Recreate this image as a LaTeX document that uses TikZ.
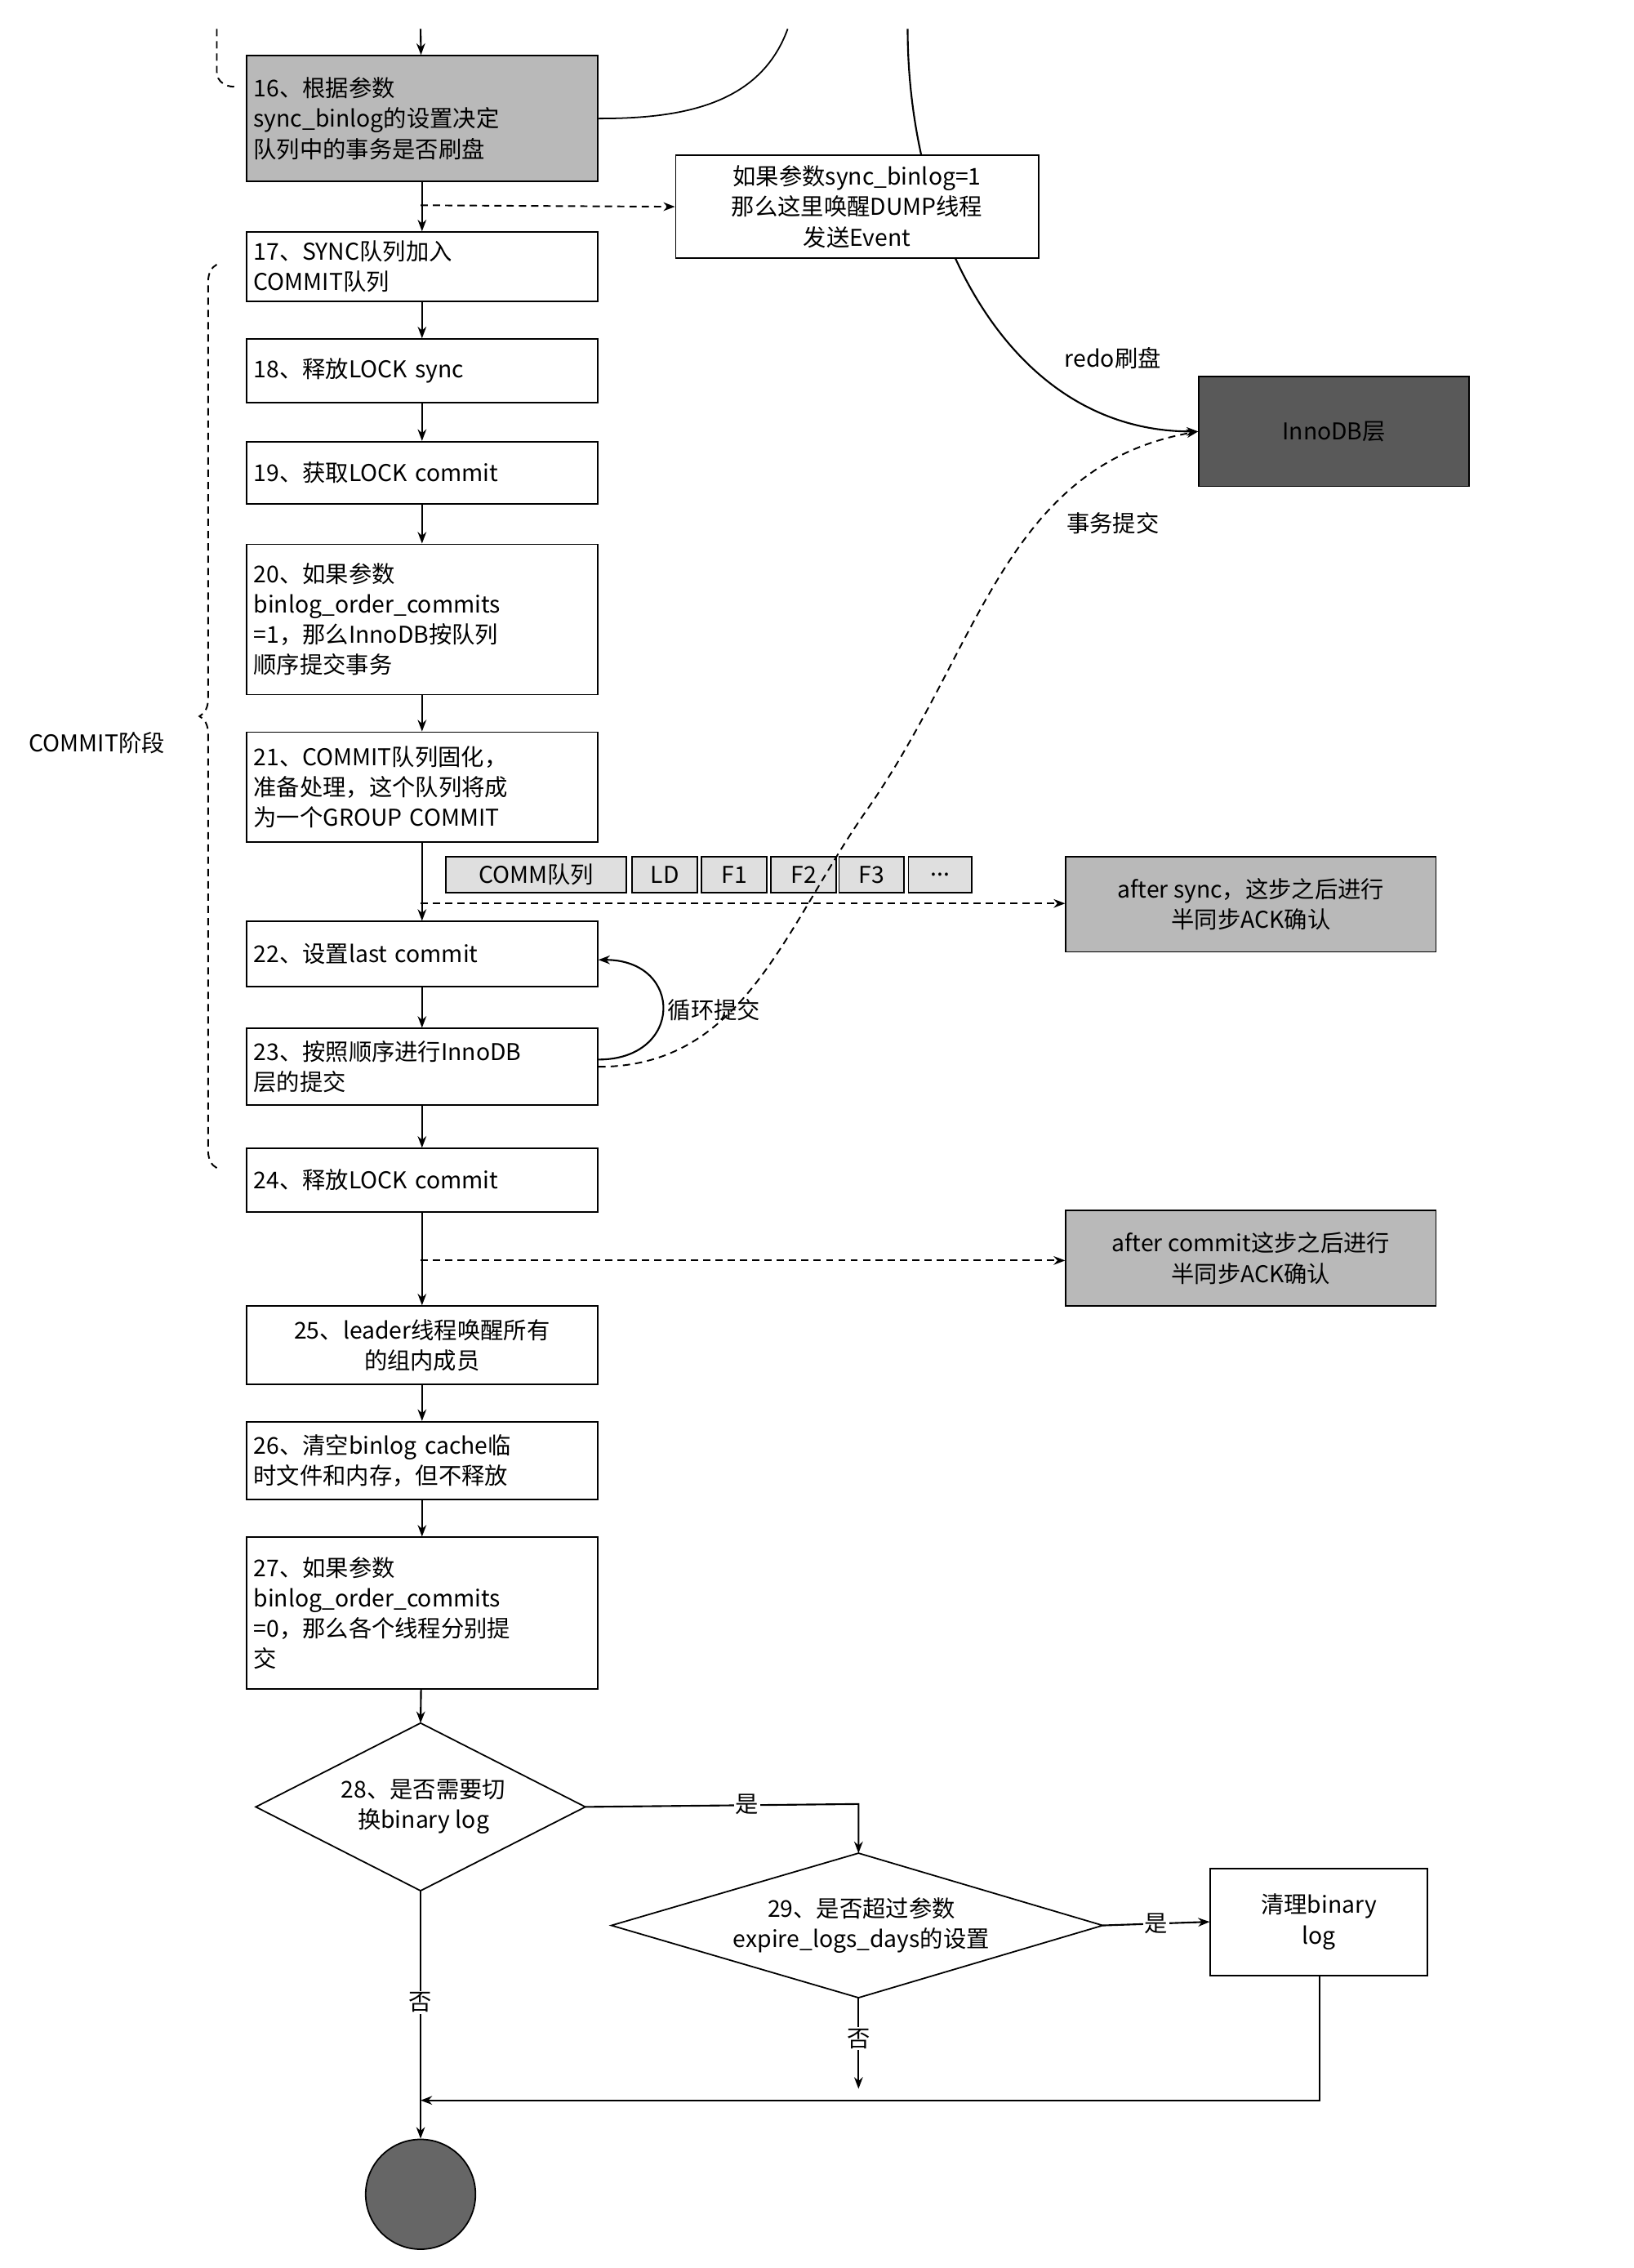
\documentclass[tikz,border=0pt]{standalone}
\usepackage{fontspec}
\setmainfont{Noto Sans CJK SC}
\usetikzlibrary{arrows.meta,decorations.pathreplacing}
\tikzset{
  box/.style={draw,line width=1pt,anchor=north west,minimum width=243pt,text width=233pt,align=left,inner sep=4pt,font=\fontsize{16}{21}\selectfont},
  gbox/.style={box,fill=gray!55},
  note/.style={draw,line width=1pt,anchor=north west,align=center,inner sep=2pt,font=\fontsize{16}{21}\selectfont},
  qcell/.style={draw,line width=1pt,anchor=north west,minimum height=25pt,inner sep=1pt,font=\fontsize{16}{20}\selectfont,fill=gray!25},
  lbl/.style={font=\fontsize{16}{20}\selectfont,fill=white,inner sep=1pt},
  flow/.style={line width=1.2pt,-{Stealth[length=8pt]}},
  dsh/.style={line width=1.1pt,dash pattern=on 5pt off 3.5pt},
  dflow/.style={dsh,-{Stealth[length=8pt]}},
}
\begin{document}
\begin{tikzpicture}[x=1pt,y=-1pt]
\useasboundingbox (0,0) rectangle (1130,1569);

%main boxes
\node[gbox,minimum height=87pt] (s16) at (170,38) {16、根据参数\\sync\_binlog的设置决定\\队列中的事务是否刷盘};
\node[box,minimum height=48pt] (s17) at (170,160) {17、SYNC队列加入\\COMMIT队列};
\node[box,minimum height=44pt] (s18) at (170,234) {18、释放LOCK sync};
\node[box,minimum height=43pt] (s19) at (170,305) {19、获取LOCK commit};
\node[box,minimum height=104pt] (s20) at (170,376) {20、如果参数\\binlog\_order\_commits\\=1，那么InnoDB按队列\\顺序提交事务};
\node[box,minimum height=76pt] (s21) at (170,506) {21、COMMIT队列固化，\\准备处理，这个队列将成\\为一个GROUP COMMIT};
\node[box,minimum height=45pt] (s22) at (170,637) {22、设置last commit};
\node[box,minimum height=53pt] (s23) at (170,711) {23、按照顺序进行InnoDB\\层的提交};
\node[box,minimum height=44pt] (s24) at (170,794) {24、释放LOCK commit};
\node[box,minimum height=54pt,align=center] (s25) at (170,903) {25、leader线程唤醒所有\\的组内成员};
\node[box,minimum height=54pt] (s26) at (170,983) {26、清空binlog cache临\\时文件和内存，但不释放};
\node[box,minimum height=105pt] (s27) at (170,1063) {27、如果参数\\binlog\_order\_commits\\=0，那么各个线程分别提\\交};

%decisions
\draw[line width=1pt] (177,1250) coordinate (d28w) -- (291,1192) coordinate (d28n) -- (405,1250) coordinate (d28e) -- (291,1308) coordinate (d28s) -- cycle;
\node[font=\fontsize{16}{21}\selectfont,align=center] (t28) at (293,1250) {28、是否需要切\\换binary log};
\draw[line width=1pt] (423,1332) coordinate (d29w) -- (594,1282) coordinate (d29n) -- (763,1332) coordinate (d29e) -- (594,1382) coordinate (d29s) -- cycle;
\node[font=\fontsize{16}{21}\selectfont,align=center] (t29) at (596,1332) {29、是否超过参数\\expire\_logs\_days的设置};
\node[note,minimum width=150pt,minimum height=74pt] (clr) at (837,1292) {清理binary\\log};
\node[draw,line width=1pt,fill=gray!80!black,circle,minimum size=76pt] (fin) at (291,1518) {};

%side boxes
\node[note,fill=gray!70!black,minimum width=187pt,minimum height=76pt] (inno) at (829,260) {InnoDB层};
\coordinate (redo) at (628,20);
\draw[flow] (redo) to[out=270,in=180] (inno.west);
\node[note,fill=white,minimum width=251pt,minimum height=71pt] (wake) at (467,107) {如果参数sync\_binlog=1\\那么这里唤醒DUMP线程\\发送Event};
\node[note,fill=gray!55,minimum width=256pt,minimum height=66pt] (asyn) at (737,592) {after sync，这步之后进行\\半同步ACK确认};
\node[note,fill=gray!55,minimum width=256pt,minimum height=66pt] (acom) at (737,837) {after commit这步之后进行\\半同步ACK确认};

%queue
\node[qcell,minimum width=125pt] (q0) at (308,592) {COMM队列};
\node[qcell,minimum width=45pt] (q1) at (437,592) {LD};
\node[qcell,minimum width=45pt] (q2) at (485,592) {F1};
\node[qcell,minimum width=45pt] (q3) at (533,592) {F2};
\node[qcell,minimum width=45pt] (q4) at (580,592) {F3};
\node[qcell,minimum width=44pt] (q5) at (628,592) {...};

%flow
\coordinate (top) at (291,20);
\draw[flow] (top) -- (s16);
\foreach \a/\b in {s16/s17,s17/s18,s18/s19,s19/s20,s20/s21,s21/s22,s22/s23,s23/s24,s24/s25,s25/s26,s26/s27,s27/d28n}
  \draw[flow] (\a) -- (\b);
\coordinate (j16) at (291,142);
\draw[dflow] (j16) -- (wake.west);
\coordinate (jq) at (291,625);
\coordinate (jc) at (291,872);
\draw[dflow] (jq) -- (asyn.west |- jq);
\draw[dflow] (jc) -- (acom.west |- jc);
\draw[flow] (s23.east) ++(0,-5) to[out=0,in=0,looseness=2.2] node[lbl,pos=0.5,right=2pt] (loop) {循环提交} ([yshift=-4pt]s22.east);
\draw[dflow] (s23.east) to[out=0,in=235] (600,560) to[out=55,in=190] (inno.west);
\coordinate (bin) at (545,20);
\draw[line width=1pt] (s16.east) to[out=0,in=250] (bin);
\node[lbl] (lredo) at (770,248) {redo刷盘};
\node[lbl] (ltx) at (770,362) {事务提交};

%decision branches
\coordinate (y28) at (594,1248);
\draw[flow] (d28e) -- (y28) -- (d29n);
\node[lbl] (l28y) at (517,1248) {是};
\draw[flow] (d29e) -- node[lbl] {是} (clr.west);
\coordinate (n29) at (594,1445);
\draw[flow] (d29s) -- node[lbl,pos=0.45] {否} (n29);
\draw[flow] (d28s) -- node[lbl,pos=0.45] {否} (fin);
\coordinate (c1) at (913,1453);
\coordinate (c2) at (291,1453);
\draw[flow] (clr.south -| c1) -- (c1) -- (c2);

%brace
\draw[dsh,decorate,decoration={brace,amplitude=12pt}] (150,808) -- (150,183);
\draw[dsh] (150,20) -- (150,50) to[out=270,in=180] (162,60);
\node[font=\fontsize{16}{20}\selectfont] (phase) at (67,514) {COMMIT阶段};
\end{tikzpicture}
\end{document}
